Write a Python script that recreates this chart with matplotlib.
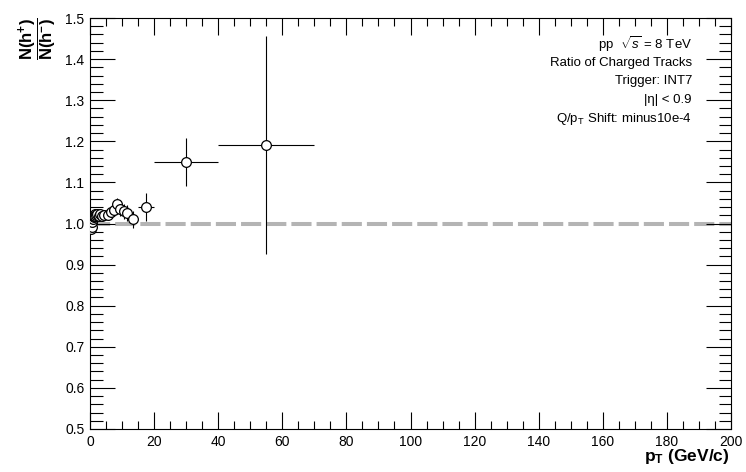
"""Charge ratio N(h+)/N(h-) of charged tracks versus pT, ROOT-style."""
import matplotlib
matplotlib.use("Agg")
import matplotlib.pyplot as plt
from matplotlib.ticker import MultipleLocator

plt.rcParams["font.family"] = ["Liberation Sans", "DejaVu Sans"]
plt.rcParams["mathtext.fontset"] = "custom"
plt.rcParams["mathtext.rm"] = "Liberation Sans"
plt.rcParams["mathtext.it"] = "Liberation Sans:italic"
plt.rcParams["mathtext.bf"] = "Liberation Sans:bold"

# bin centres, half widths, ratio and its error
pt = [0.3, 0.5, 0.7, 0.9, 1.1, 1.3, 1.5, 1.7, 1.9, 2.25, 2.75, 3.25, 3.75,
      4.5, 5.5, 6.5, 7.5, 8.5, 9.5, 10.5, 11.5, 13.5, 17.5, 30.0, 55.0]
pt_err = [0.1, 0.1, 0.1, 0.1, 0.1, 0.1, 0.1, 0.1, 0.1, 0.25, 0.25, 0.25, 0.25,
          0.5, 0.5, 0.5, 0.5, 0.5, 0.5, 0.5, 0.5, 1.5, 2.5, 10.0, 15.0]
ratio = [0.986, 0.992, 1.004, 1.012, 1.016, 1.019, 1.022, 1.018, 1.021, 1.024,
         1.019, 1.022, 1.018, 1.021, 1.020, 1.027, 1.032, 1.048, 1.035, 1.030,
         1.025, 1.010, 1.040, 1.150, 1.190]
ratio_err = [0.002, 0.002, 0.002, 0.002, 0.002, 0.002, 0.002, 0.002, 0.003, 0.003,
             0.003, 0.004, 0.004, 0.005, 0.006, 0.008, 0.010, 0.015, 0.016, 0.018,
             0.020, 0.020, 0.033, 0.058, 0.265]
ref_level = 1.0

labels = [r"pp  $\sqrt{s}$ = 8 TeV", "Ratio of Charged Tracks", "Trigger: INT7",
          "|η| < 0.9", r"Q/p$_{\mathrm{T}}$ Shift: minus10e-4"]

fig = plt.figure(figsize=(7.46, 4.72), dpi=100)
ax = fig.add_axes([90 / 746, 43 / 472, 641 / 746, 411 / 472])
ax.set_xlim(0, 200)
ax.set_ylim(0.5, 1.5)

ax.plot(ax.get_xlim(), [ref_level, ref_level], color="#b4b4b4", lw=2.9,
        dashes=(5, 1.25), solid_capstyle="butt", dash_capstyle="butt", zorder=1)
ax.errorbar(pt, ratio, xerr=pt_err, yerr=ratio_err, fmt="o", ms=7,
            mfc="white", mec="black", mew=0.9, ecolor="black", elinewidth=0.8,
            capsize=0, zorder=3)

ax.xaxis.set_major_locator(MultipleLocator(20))
ax.xaxis.set_minor_locator(MultipleLocator(5))
ax.yaxis.set_major_locator(MultipleLocator(0.1))
ax.yaxis.set_minor_locator(MultipleLocator(0.02))
ax.tick_params(which="both", direction="in", top=True, right=True,
               labelsize=10, width=0.8, pad=4)
ax.tick_params(axis="x", which="major", length=12)
ax.tick_params(axis="x", which="minor", length=6)
ax.tick_params(axis="y", which="major", length=18)
ax.tick_params(axis="y", which="minor", length=9)
for s in ax.spines.values():
    s.set_linewidth(0.8)

fig.text(730 / 746, 1 - 457 / 472, r"$\mathbf{p_{T}}$ $\mathbf{(GeV/c)}$",
         ha="right", va="center", fontsize=12.5, fontweight="bold")
fig.text(38 / 746, 1 - 39 / 472,
         r"$\dfrac{\mathbf{N(h^{+})}}{\mathbf{N(h^{-})}}$",
         ha="center", va="center", rotation=90, fontsize=12)

for i, t in enumerate(labels):
    fig.text(692 / 746, 1 - (44 + 18.7 * i) / 472, t, ha="right",
             va="center", fontsize=9.5)

fig.savefig("out.png", dpi=100)
